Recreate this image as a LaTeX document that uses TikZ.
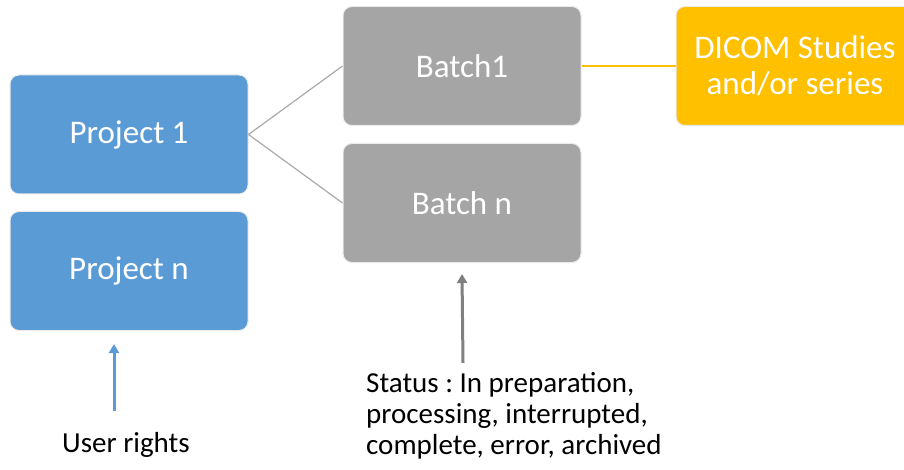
\documentclass[tikz,border=0pt]{standalone}
\usepackage{fontspec}
\setmainfont{Carlito}
\usetikzlibrary{arrows.meta}
\definecolor{pblue}{HTML}{5B9BD5}
\definecolor{pgray}{HTML}{A5A5A5}
\definecolor{porange}{HTML}{FFC000}
\definecolor{lgray}{HTML}{A9A9A9}
\definecolor{agray}{HTML}{808080}
\tikzset{
  box/.style={rectangle, rounded corners=9pt, draw=white!92!black, line width=1pt,
    minimum width=238pt, minimum height=119pt, inner sep=0pt, text=white, align=center,
    font=\fontsize{33}{37}\selectfont},
  note/.style={inner sep=0pt, align=left, font=\fontsize{29}{30}\selectfont},
  link/.style={lgray, line width=1.2pt},
  uparrow/.style={line width=3pt, -{Triangle[length=9pt,width=10pt]}}
}
\frenchspacing
\begin{document}
\begin{tikzpicture}[x=1pt,y=-1pt]
\useasboundingbox (0,0) rectangle (904,470);
\clip (0,0) rectangle (904,470);
\node[box, fill=pblue] (p1) at (129,134.5) {Project 1};
\node[box, fill=pblue] (pn) at (129,271) {Project n};
\node[box, fill=pgray] (b1) at (462,66) {Batch1};
\node[box, fill=pgray] (bn) at (462,203) {Batch n};
\node[box, fill=porange, font=\fontsize{33}{36}\selectfont] (dc) at (795,66) {DICOM Studies\\and/or series};
\draw[link] (p1.east) -- (b1.west);
\draw[link] (p1.east) -- (bn.west);
\draw[porange, line width=1.5pt] (b1.east) -- (dc.west);
\node[note, anchor=base west] (ur) at (62,452) {User rights};
\node[note, anchor=north west] (st) at (366,372) {\frenchspacing Status : In preparation,\\[1pt]\frenchspacing processing, interrupted,\\[1pt]\frenchspacing complete, error, archived};
\coordinate (ua) at (114,411);
\coordinate (ga) at (463,363);
\draw[uparrow, pblue] (ua) -- (114,344);
\draw[uparrow, agray] (ga) -- (bn.south |- 0,274);
\end{tikzpicture}
\end{document}
